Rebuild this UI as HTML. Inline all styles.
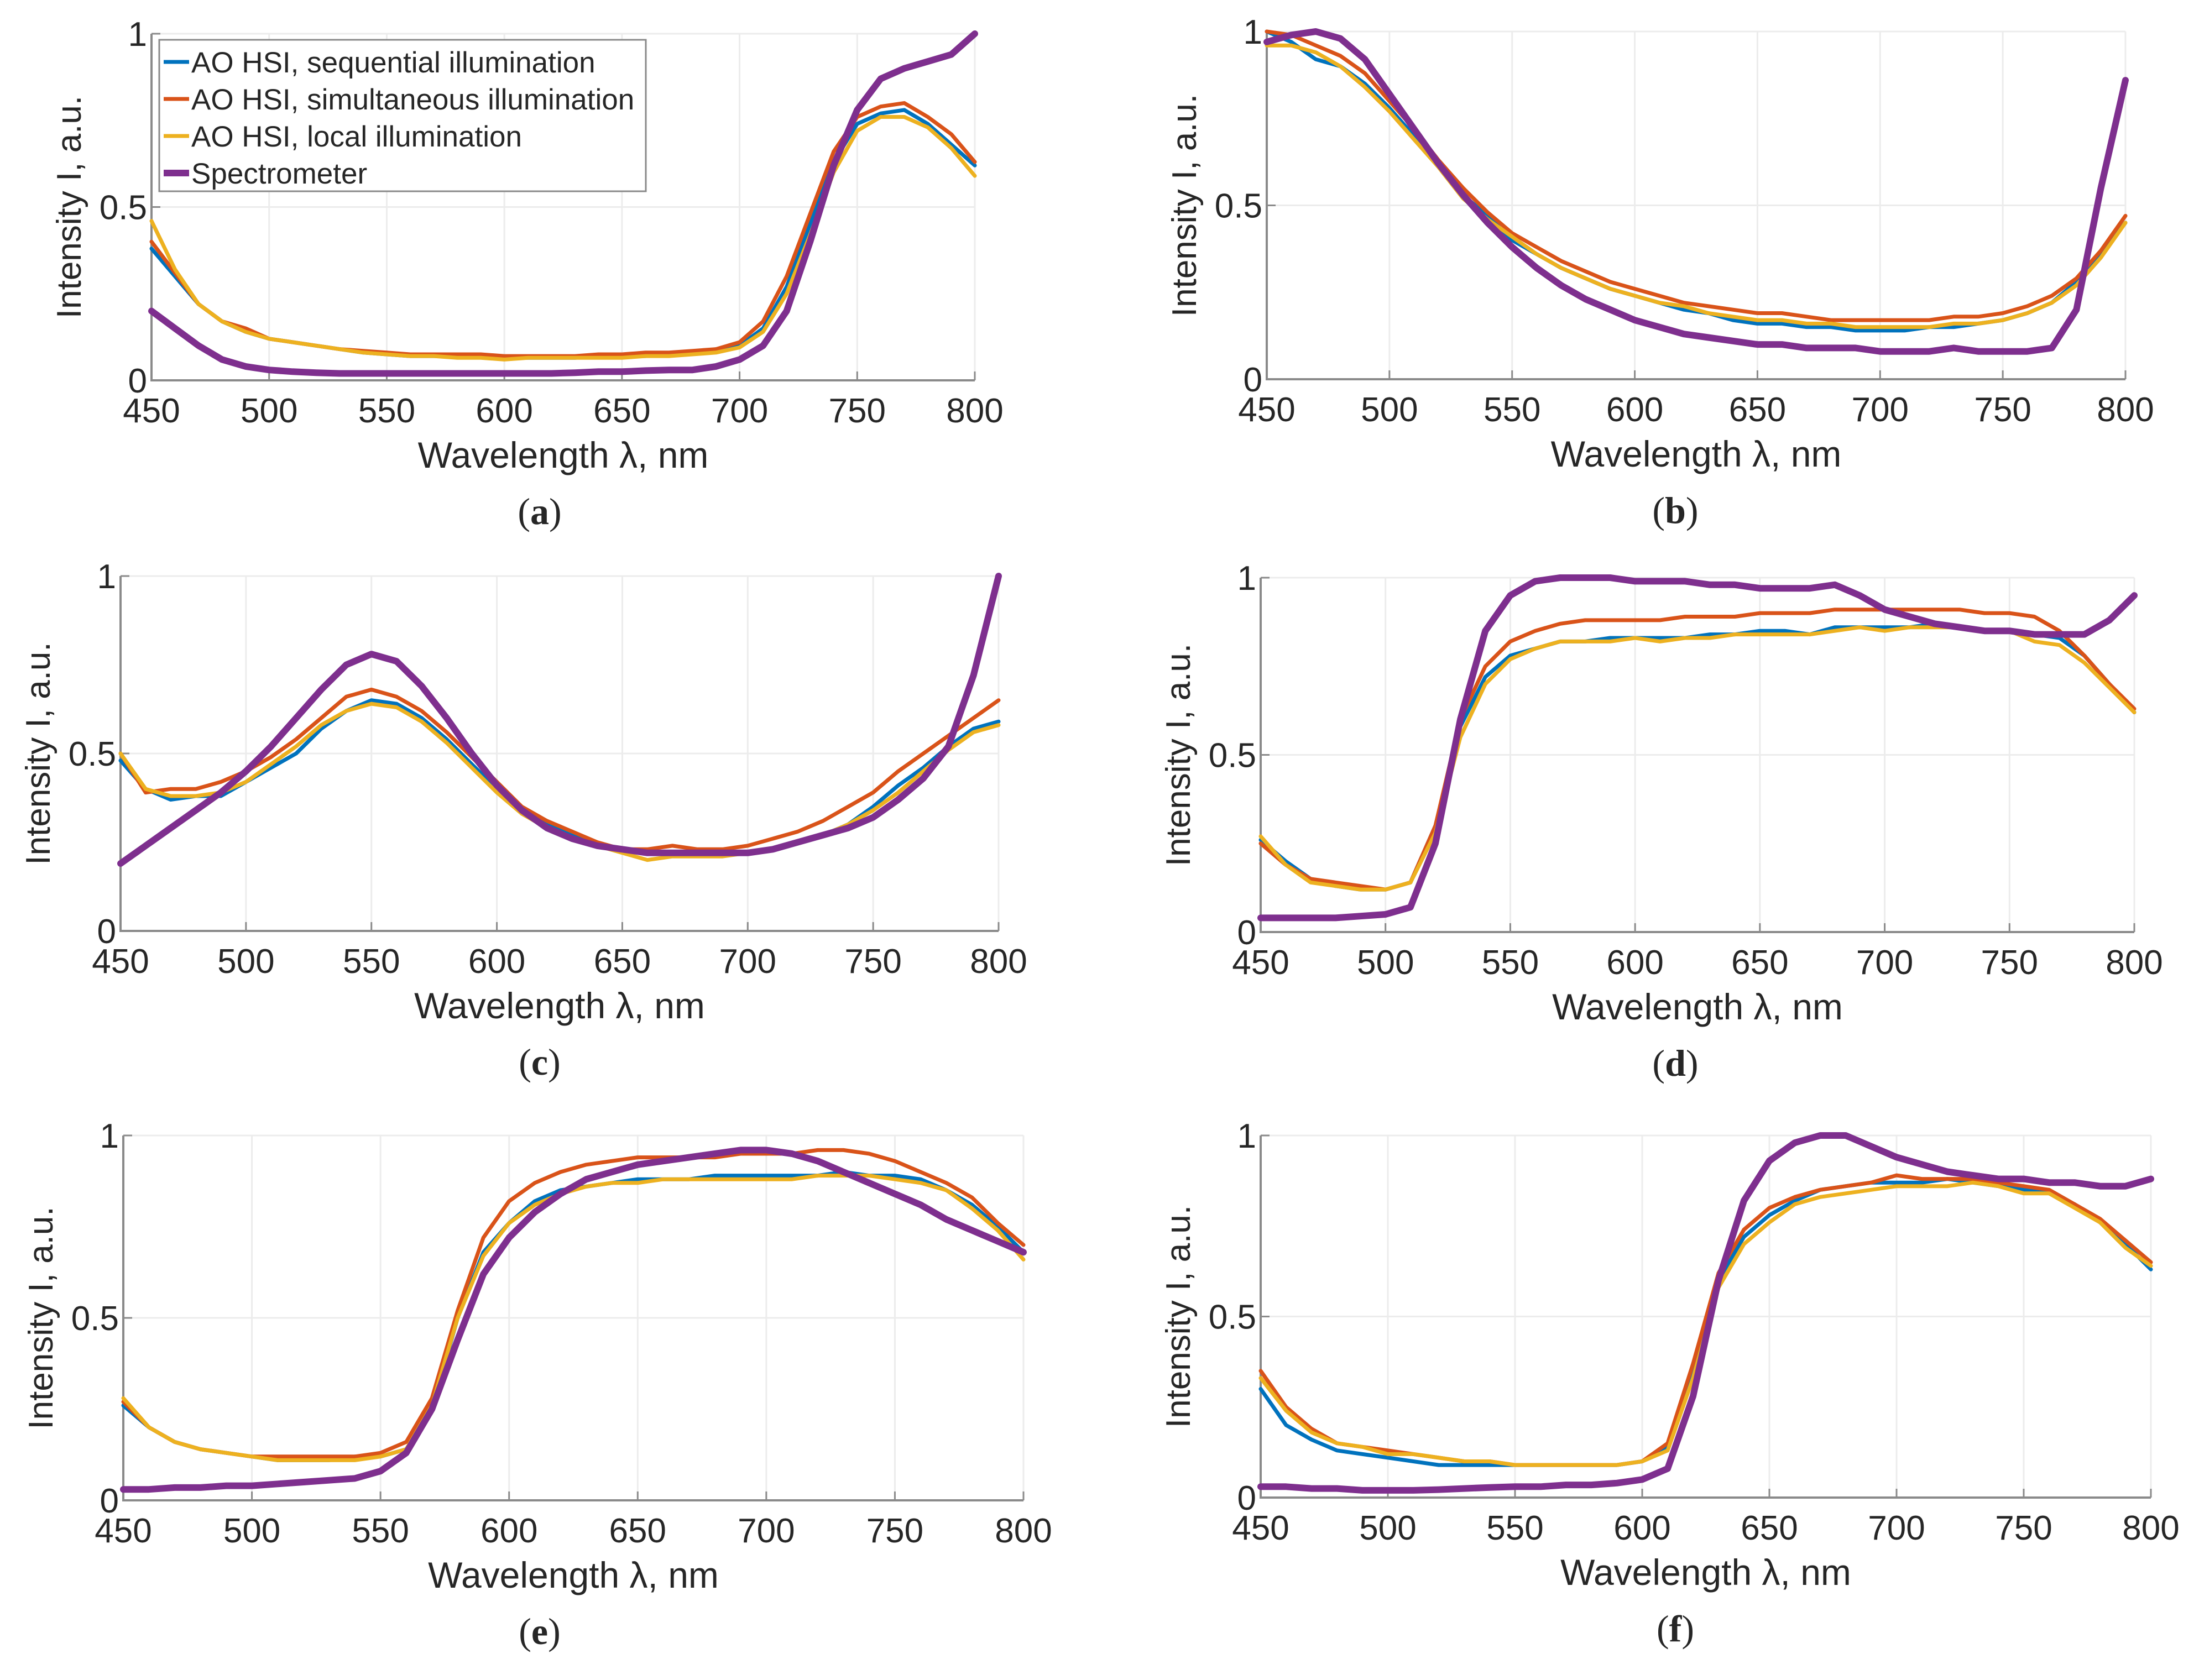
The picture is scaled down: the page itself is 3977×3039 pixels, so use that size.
<!DOCTYPE html>
<html><head><meta charset="utf-8"><style>
html,body{margin:0;padding:0;background:#fff;}
svg{display:block;}
text{font-family:"Liberation Sans",sans-serif;fill:#262626;}
</style></head><body>
<svg id="fig" width="3977" height="3039" viewBox="0 0 3977 3039" xmlns="http://www.w3.org/2000/svg"></svg>
<script>
const wavelengths = [450,460,470,480,490,500,510,520,530,540,550,560,570,580,590,600,610,620,630,640,650,660,670,680,690,700,710,720,730,740,750,760,770,780,790,800];
const xTicks = [450,500,550,600,650,700,750,800];
const yTicks = [0,0.5,1];
const yTickLabels = ["0","0.5","1"];
const seriesNames = ["AO HSI, sequential illumination","AO HSI, simultaneous illumination","AO HSI, local illumination","Spectrometer"];
const panelLetters = ["a","b","c","d","e","f"];

const aSeq  = [.38,.30,.22,.17,.14,.12,.11,.10,.09,.08,.075,.07,.07,.07,.07,.065,.065,.065,.065,.07,.07,.07,.075,.08,.09,.10,.15,.27,.45,.63,.74,.77,.78,.74,.68,.62];
const aSim  = [.40,.31,.22,.17,.15,.12,.11,.10,.09,.085,.08,.075,.075,.075,.075,.07,.07,.07,.07,.075,.075,.08,.08,.085,.09,.11,.17,.30,.48,.66,.76,.79,.80,.76,.71,.63];
const aLoc  = [.46,.32,.22,.17,.14,.12,.11,.10,.09,.08,.075,.07,.07,.065,.065,.06,.065,.065,.065,.065,.065,.07,.07,.075,.08,.095,.14,.25,.42,.60,.72,.76,.76,.73,.67,.59];
const aSpec = [.20,.15,.10,.06,.04,.03,.025,.022,.02,.02,.02,.02,.02,.02,.02,.02,.02,.02,.022,.025,.025,.028,.03,.03,.04,.06,.10,.20,.40,.62,.78,.87,.90,.92,.94,1.0];

const bSeq  = [1.0,.97,.92,.90,.85,.78,.70,.62,.53,.47,.40,.36,.32,.29,.26,.24,.22,.20,.19,.17,.16,.16,.15,.15,.14,.14,.14,.15,.15,.16,.17,.19,.22,.28,.36,.45];
const bSim  = [1.0,.99,.96,.93,.88,.80,.72,.63,.55,.48,.42,.38,.34,.31,.28,.26,.24,.22,.21,.20,.19,.19,.18,.17,.17,.17,.17,.17,.18,.18,.19,.21,.24,.29,.37,.47];
const bLoc  = [.96,.96,.94,.90,.84,.77,.69,.61,.52,.46,.41,.36,.32,.29,.26,.24,.22,.21,.19,.18,.17,.17,.16,.16,.15,.15,.15,.15,.16,.16,.17,.19,.22,.27,.35,.45];
const bSpec = [.97,.99,1.0,.98,.92,.82,.72,.62,.53,.45,.38,.32,.27,.23,.20,.17,.15,.13,.12,.11,.10,.10,.09,.09,.09,.08,.08,.08,.09,.08,.08,.08,.09,.20,.55,.86];

const cSeq  = [.48,.40,.37,.38,.38,.42,.46,.50,.57,.62,.65,.64,.60,.54,.47,.40,.34,.30,.27,.24,.23,.22,.22,.22,.22,.22,.23,.25,.27,.30,.35,.41,.46,.52,.57,.59];
const cSim  = [.50,.39,.40,.40,.42,.45,.49,.54,.60,.66,.68,.66,.62,.56,.49,.42,.35,.31,.28,.25,.23,.23,.24,.23,.23,.24,.26,.28,.31,.35,.39,.45,.50,.55,.60,.65];
const cLoc  = [.50,.40,.38,.38,.39,.42,.47,.52,.58,.62,.64,.63,.59,.53,.46,.39,.33,.29,.26,.24,.22,.20,.21,.21,.21,.22,.23,.25,.27,.30,.34,.39,.45,.51,.56,.58];
const cSpec = [.19,.24,.29,.34,.39,.45,.52,.60,.68,.75,.78,.76,.69,.60,.50,.41,.34,.29,.26,.24,.23,.22,.22,.22,.22,.22,.23,.25,.27,.29,.32,.37,.43,.52,.72,1.0];

const dSeq  = [.26,.20,.15,.13,.12,.12,.14,.30,.58,.72,.78,.80,.82,.82,.83,.83,.83,.83,.84,.84,.85,.85,.84,.86,.86,.86,.86,.87,.86,.85,.85,.84,.83,.78,.70,.62];
const dSim  = [.25,.19,.15,.14,.13,.12,.14,.30,.60,.75,.82,.85,.87,.88,.88,.88,.88,.89,.89,.89,.90,.90,.90,.91,.91,.91,.91,.91,.91,.90,.90,.89,.85,.78,.70,.63];
const dLoc  = [.27,.19,.14,.13,.12,.12,.14,.28,.55,.70,.77,.80,.82,.82,.82,.83,.82,.83,.83,.84,.84,.84,.84,.85,.86,.85,.86,.86,.86,.85,.85,.82,.81,.76,.69,.62];
const dSpec = [.04,.04,.04,.04,.045,.05,.07,.25,.60,.85,.95,.99,1.0,1.0,1.0,.99,.99,.99,.98,.98,.97,.97,.97,.98,.95,.91,.89,.87,.86,.85,.85,.84,.84,.84,.88,.95];

const eSeq  = [.26,.20,.16,.14,.13,.12,.11,.11,.11,.12,.12,.14,.25,.50,.68,.76,.82,.85,.86,.87,.88,.88,.88,.89,.89,.89,.89,.89,.90,.89,.89,.88,.85,.81,.75,.68];
const eSim  = [.27,.20,.16,.14,.13,.12,.12,.12,.12,.12,.13,.16,.28,.52,.72,.82,.87,.90,.92,.93,.94,.94,.94,.94,.95,.95,.95,.96,.96,.95,.93,.90,.87,.83,.76,.70];
const eLoc  = [.28,.20,.16,.14,.13,.12,.11,.11,.11,.11,.12,.14,.26,.50,.67,.76,.81,.84,.86,.87,.87,.88,.88,.88,.88,.88,.88,.89,.89,.89,.88,.87,.85,.80,.74,.66];
const eSpec = [.03,.03,.035,.035,.04,.04,.045,.05,.055,.06,.08,.13,.25,.44,.62,.72,.79,.84,.88,.90,.92,.93,.94,.95,.96,.96,.95,.93,.90,.87,.84,.81,.77,.74,.71,.68];

const fSeq  = [.30,.20,.16,.13,.12,.11,.10,.09,.09,.09,.09,.09,.09,.09,.09,.10,.14,.35,.60,.72,.78,.82,.85,.86,.87,.87,.87,.88,.87,.86,.85,.84,.81,.76,.70,.63];
const fSim  = [.35,.25,.19,.15,.14,.13,.12,.11,.10,.10,.09,.09,.09,.09,.09,.10,.15,.37,.62,.74,.80,.83,.85,.86,.87,.89,.88,.88,.88,.87,.86,.85,.81,.77,.71,.65];
const fLoc  = [.33,.24,.18,.15,.14,.12,.12,.11,.10,.10,.09,.09,.09,.09,.09,.10,.13,.33,.58,.70,.76,.81,.83,.84,.85,.86,.86,.86,.87,.86,.84,.84,.80,.76,.69,.64];
const fSpec = [.03,.03,.025,.025,.02,.02,.02,.022,.025,.028,.03,.03,.035,.035,.04,.05,.08,.28,.60,.82,.93,.98,1.0,1.0,.97,.94,.92,.90,.89,.88,.88,.87,.87,.86,.86,.88];

const panelSeries = [[aSeq,aSim,aLoc,aSpec],[bSeq,bSim,bLoc,bSpec],[cSeq,cSim,cLoc,cSpec],[dSeq,dSim,dLoc,dSpec],[eSeq,eSim,eLoc,eSpec],[fSeq,fSim,fLoc,fSpec]];

const NS = "http://www.w3.org/2000/svg";
const svg = document.getElementById('fig');
const colors = ["#0072BD","#D95319","#EDB120","#7E2F8E"];
const widths = [7,7,7,12];
const boxes = [
  {x0:274,x1:1763,y1:61,y0:688,cx:976},
  {x0:2291,x1:3844,y1:57,y0:686,cx:3030},
  {x0:218,x1:1806,y1:1042,y0:1684,cx:976},
  {x0:2280,x1:3860,y1:1045,y0:1686,cx:3030},
  {x0:223,x1:1851,y1:2054,y0:2714,cx:976},
  {x0:2280,x1:3890,y1:2054,y0:2709,cx:3030}
];
function mk(tag, attrs, parent){
  const e=document.createElementNS(NS,tag);
  for(const k in attrs) e.setAttribute(k,attrs[k]);
  (parent||svg).appendChild(e);
  return e;
}
boxes.forEach((b,pi)=>{
  const g=mk('g',{});
  
  
  const sx=v=>b.x0+(v-450)/350*(b.x1-b.x0);
  const sy=v=>b.y0-v*(b.y0-b.y1);
  xTicks.forEach(t=>{
    const l=mk('line',{x1:sx(t),x2:sx(t),y1:b.y0,y2:b.y1,stroke:'#ececec','stroke-width':3},g);
    
    
  });
  yTicks.forEach(t=>{
    const l=mk('line',{x1:b.x0,x2:b.x1,y1:sy(t),y2:sy(t),stroke:'#ececec','stroke-width':3},g);
    
    
  });
  const ax=mk('path',{d:`M${b.x0},${b.y1} L${b.x0},${b.y0} L${b.x1},${b.y0}`,stroke:'#8a8a8a','stroke-width':4,fill:'none'},g);
  
  
  xTicks.forEach(t=>{
    mk('line',{x1:sx(t),x2:sx(t),y1:b.y0,y2:b.y0-16,stroke:'#8a8a8a','stroke-width':3},g);
    const tx=mk('text',{x:sx(t),y:b.y0+76,'text-anchor':'middle','font-size':62},g);
    tx.textContent=t;
    
    
  });
  yTicks.forEach((t,i)=>{
    mk('line',{x1:b.x0,x2:b.x0+16,y1:sy(t),y2:sy(t),stroke:'#8a8a8a','stroke-width':3},g);
    const tx=mk('text',{x:b.x0-8,y:sy(t)+22,'text-anchor':'end','font-size':62},g);
    tx.textContent=yTickLabels[i];
    
    
  });
  const xl=mk('text',{x:(b.x0+b.x1)/2,y:b.y0+158,'text-anchor':'middle','font-size':66},g);
  xl.textContent='Wavelength λ, nm';
  
  
  const yc=(b.y0+b.y1)/2, yx=b.x0-128;
  const yl=mk('text',{x:yx,y:yc,'text-anchor':'middle','font-size':62,transform:`rotate(-90 ${yx} ${yc})`},g);
  yl.textContent='Intensity I, a.u.';
  
  
  panelSeries[pi].forEach((vals,si)=>{
    const d=vals.map((v,i)=>(i?'L':'M')+sx(wavelengths[i]).toFixed(1)+','+sy(v).toFixed(1)).join(' ');
    const p=mk('path',{d:d,stroke:colors[si],'stroke-width':widths[si],fill:'none','stroke-linejoin':'round','stroke-linecap':'round'},g);
    
    
  });
  const cap=mk('text',{x:b.cx,y:b.y0+260,'text-anchor':'middle','font-size':68,style:'font-family:"Liberation Serif",serif'},g);
  cap.innerHTML='(<tspan font-weight="bold">'+panelLetters[pi]+'</tspan>)';
  
  
});
const lg=mk('g',{});


mk('rect',{x:288,y:72,width:880,height:274,fill:'#fff',stroke:'#8a8a8a','stroke-width':3},lg);
seriesNames.forEach((n,i)=>{
  const y=112+i*67;
  mk('line',{x1:296,x2:342,y1:y,y2:y,stroke:colors[i],'stroke-width':widths[i]},lg);
  const t=mk('text',{x:346,y:y+19,'font-size':53},lg);
  t.textContent=n;
  
  
});
</script>
</body></html>
